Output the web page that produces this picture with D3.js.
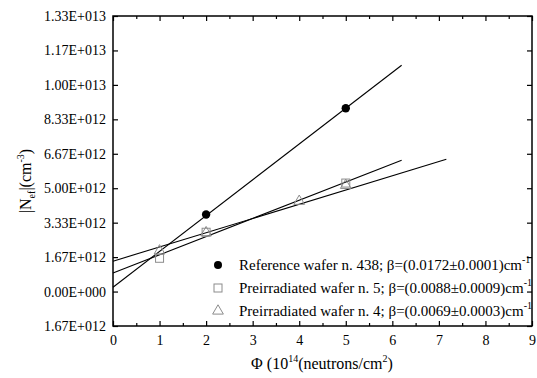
<!DOCTYPE html>
<html>
<head>
<meta charset="utf-8">
<script src="https://cdn.jsdelivr.net/npm/d3@7"></script>
<style>
  body { margin: 0; background: #fff; }
  text { font-family: 'Liberation Serif', 'DejaVu Serif', serif !important; fill: #000; }
</style>
</head>
<body>
<svg id="chart" width="537" height="378"></svg>
<script>
// data (fluence in 1e14 n/cm^2, |Neff| in cm^-3)
const refX = [2, 5];
const refY = [3.73e12, 8.87e12];
const sq5X = [1, 2, 5];
const sq5Y = [1.61e12, 2.87e12, 5.25e12];
const tri4X = [1, 2, 4, 5];
const tri4Y = [1.97e12, 2.85e12, 4.37e12, 5.14e12];

// fitted lines, start and end points
const refFit = [[0, 0.21e12], [6.2, 10.95e12]];
const sq5Fit = [[0, 0.90e12], [6.2, 6.35e12]];
const tri4Fit = [[0, 1.47e12], [7.16, 6.40e12]];

const yTickValues = [-1.6667e12, 0, 1.6667e12, 3.3333e12, 5e12, 6.6667e12, 8.3333e12, 1e13, 1.16667e13, 1.33333e13];
const yTickLabels = ['1.67E+012', '0.00E+000', '1.67E+012', '3.33E+012', '5.00E+012', '6.67E+012', '8.33E+012', '1.00E+013', '1.17E+013', '1.33E+013'];
const xTickValues = [0, 1, 2, 3, 4, 5, 6, 7, 8, 9];

const legendLabels = [
    'Reference wafer n. 438; β=(0.0172±0.0001)cm',
    'Preirradiated wafer n. 5; β=(0.0088±0.0009)cm',
    'Preirradiated wafer n. 4; β=(0.0069±0.0003)cm'
];

const svg = d3.select('#chart');
const margin = {left: 113, right: 5, top: 16, bottom: 52};
const W = 537, H = 378;
const serif = "'Liberation Serif', 'DejaVu Serif', serif";

const x = d3.scaleLinear().domain([0, 9]).range([margin.left, W - margin.right]);
const y = d3.scaleLinear().domain([-1.6667e12, 1.33333e13]).range([H - margin.bottom, margin.top]);

const fontSize = 14;

// axes, ticks inside
const axBottom = svg.append('g').attr('transform', `translate(0,${y.range()[0]})`)
    .call(d3.axisBottom(x).tickValues(xTickValues).tickSizeInner(-5).tickSizeOuter(0).tickPadding(9).tickFormat(d3.format('d')));
const axBottomMinor = svg.append('g').attr('transform', `translate(0,${y.range()[0]})`)
    .call(d3.axisBottom(x).tickValues(d3.range(0.5, 9, 1)).tickSizeInner(-3).tickSizeOuter(0).tickFormat(''));
const axTop = svg.append('g').attr('transform', `translate(0,${y.range()[1]})`)
    .call(d3.axisTop(x).tickValues(xTickValues).tickSizeInner(-5).tickSizeOuter(0).tickFormat(''));
const axTopMinor = svg.append('g').attr('transform', `translate(0,${y.range()[1]})`)
    .call(d3.axisTop(x).tickValues(d3.range(0.5, 9, 1)).tickSizeInner(-3).tickSizeOuter(0).tickFormat(''));
const axLeft = svg.append('g').attr('transform', `translate(${x.range()[0]},0)`)
    .call(d3.axisLeft(y).tickValues(yTickValues).tickSizeInner(-5).tickSizeOuter(0).tickPadding(7)
        .tickFormat((d, i) => yTickLabels[i]));
const axRight = svg.append('g').attr('transform', `translate(${x.range()[1]},0)`)
    .call(d3.axisRight(y).tickValues(yTickValues).tickSizeInner(-5).tickSizeOuter(0).tickFormat(''));

svg.selectAll('g').attr('font-family', serif).attr('font-size', fontSize);
svg.selectAll('.domain').remove();
svg.selectAll('.tick line').attr('stroke', '#000').attr('stroke-width', 1.2);
svg.selectAll('.tick text').attr('fill', '#000');

// frame
svg.append('rect')
    .attr('x', x.range()[0]).attr('y', y.range()[1])
    .attr('width', x.range()[1] - x.range()[0])
    .attr('height', y.range()[0] - y.range()[1])
    .attr('fill', 'none').attr('stroke', '#000').attr('stroke-width', 1.5);

// fit lines
const line = d3.line().x(d => x(d[0])).y(d => y(d[1]));
[refFit, sq5Fit, tri4Fit].forEach(f => {
    svg.append('path').attr('d', line(f)).attr('fill', 'none').attr('stroke', '#000').attr('stroke-width', 1.1);
});

// markers
const grey = '#8c8c8c';
svg.selectAll('.sq').data(d3.zip(sq5X, sq5Y)).join('rect')
    .attr('x', d => x(d[0]) - 4).attr('y', d => y(d[1]) - 4)
    .attr('width', 8).attr('height', 8)
    .attr('fill', 'none').attr('stroke', grey).attr('stroke-width', 1);

const tri = d3.symbol().type(d3.symbolTriangle).size(50);
svg.selectAll('.tri').data(d3.zip(tri4X, tri4Y)).join('path')
    .attr('d', tri)
    .attr('transform', d => `translate(${x(d[0])},${y(d[1])})`)
    .attr('fill', 'none').attr('stroke', grey).attr('stroke-width', 1);

svg.selectAll('.dot').data(d3.zip(refX, refY)).join('circle')
    .attr('cx', d => x(d[0])).attr('cy', d => y(d[1])).attr('r', 4.2)
    .attr('fill', '#000');

// legend
const lg = svg.append('g').attr('transform', 'translate(218,265)');
legendLabels.forEach((lab, i) => {
    const row = lg.append('g').attr('transform', `translate(0,${i * 23})`);
    if (i === 0) row.append('circle').attr('r', 4).attr('fill', '#000');
    if (i === 1) row.append('rect').attr('x', -4).attr('y', -4).attr('width', 8).attr('height', 8)
        .attr('fill', 'none').attr('stroke', grey);
    if (i === 2) row.append('path').attr('d', tri).attr('fill', 'none').attr('stroke', grey);
    const t = row.append('text').attr('x', 21).attr('y', 5).attr('font-family', serif).attr('font-size', 15);
    t.append('tspan').text(lab);
    t.append('tspan').attr('dy', -7).attr('font-size', 10).text('-1');
});

// x title
const xt = svg.append('text').attr('x', 322).attr('y', 369).attr('text-anchor', 'middle')
    .attr('font-family', serif).attr('font-size', 16);
xt.append('tspan').text('Φ (10');
xt.append('tspan').attr('dy', -7).attr('font-size', 10).text('14');
xt.append('tspan').attr('dy', 7).text('(neutrons/cm');
xt.append('tspan').attr('dy', -7).attr('font-size', 10).text('2');
xt.append('tspan').attr('dy', 7).text(')');

// y title
const yt = svg.append('text').attr('transform', 'translate(31,181) rotate(-90)').attr('text-anchor', 'middle')
    .attr('font-family', serif).attr('font-size', 16);
yt.append('tspan').text('|N');
yt.append('tspan').attr('dy', 4).attr('font-size', 10).text('ef');
yt.append('tspan').attr('dy', -4).text('|(cm');
yt.append('tspan').attr('dy', -7).attr('font-size', 10).text('-3');
yt.append('tspan').attr('dy', 7).text(')');
</script>
</body>
</html>
